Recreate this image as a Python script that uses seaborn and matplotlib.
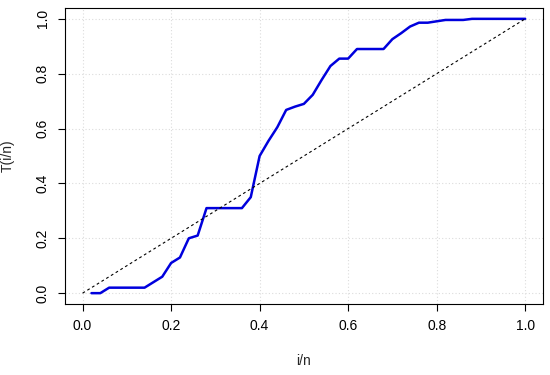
import numpy as np
import pandas as pd
import matplotlib
matplotlib.use("Agg")
import matplotlib.pyplot as plt
import seaborn as sns

# values (n = 50)
frac = [0.02, 0.04, 0.06, 0.08, 0.10, 0.12, 0.14, 0.16, 0.18, 0.20,
        0.22, 0.24, 0.26, 0.28, 0.30, 0.32, 0.34, 0.36, 0.38, 0.40,
        0.42, 0.44, 0.46, 0.48, 0.50, 0.52, 0.54, 0.56, 0.58, 0.60,
        0.62, 0.64, 0.66, 0.68, 0.70, 0.72, 0.74, 0.76, 0.78, 0.80,
        0.82, 0.84, 0.86, 0.88, 0.90, 0.92, 0.94, 0.96, 0.98, 1.00]
ttt = [0.0, 0.0, 0.02, 0.02, 0.02, 0.02, 0.02, 0.04, 0.06, 0.11,
       0.13, 0.20, 0.21, 0.31, 0.31, 0.31, 0.31, 0.31, 0.35, 0.50,
       0.555, 0.605, 0.668, 0.68, 0.69, 0.723, 0.777, 0.828, 0.855, 0.855,
       0.89, 0.89, 0.89, 0.89, 0.926, 0.948, 0.972, 0.986, 0.986, 0.991,
       0.996, 0.996, 0.996, 1.0, 1.0, 1.0, 1.0, 1.0, 1.0, 1.0]
diag_x = [0.0, 1.0]
diag_y = [0.0, 1.0]
ticks = [0.0, 0.2, 0.4, 0.6, 0.8, 1.0]

df = pd.DataFrame({"i/n": frac, "T(i/n)": ttt})

sns.set_style("white")
plt.rcParams['font.family'] = ['Liberation Sans', 'DejaVu Sans']

fig = plt.figure(figsize=(5.5, 3.75), dpi=100)
ax = fig.add_axes([0.118, 0.189, 0.869, 0.79])

sns.lineplot(data=df, x="i/n", y="T(i/n)", color="#0000dd", linewidth=1.8, ax=ax)
sns.lineplot(x=diag_x, y=diag_y, color="black", linestyle=(0, (2.5, 2.5)), linewidth=0.8, ax=ax)

ax.set_xlim(-0.04, 1.04)
ax.set_ylim(-0.04, 1.04)
ax.set_xticks(ticks)
ax.set_yticks(ticks)
ax.set_xticklabels([f"{t:.1f}" for t in ticks], fontsize=10)
ax.set_yticklabels([f"{t:.1f}" for t in ticks], fontsize=10, rotation=90, va="center")
ax.grid(True, color="#dcdcdc", linestyle=(0, (1, 2)), linewidth=0.8)
ax.tick_params(axis="both", direction="out", length=5, width=0.8, colors="black",
               bottom=True, left=True, pad=6)
for s in ax.spines.values():
    s.set_color("black")
    s.set_linewidth(0.8)
ax.set_xlabel("i/n", fontsize=10, labelpad=15)
ax.set_ylabel("T(i/n)", fontsize=10, labelpad=15)

fig.savefig("out.png", dpi=100)
